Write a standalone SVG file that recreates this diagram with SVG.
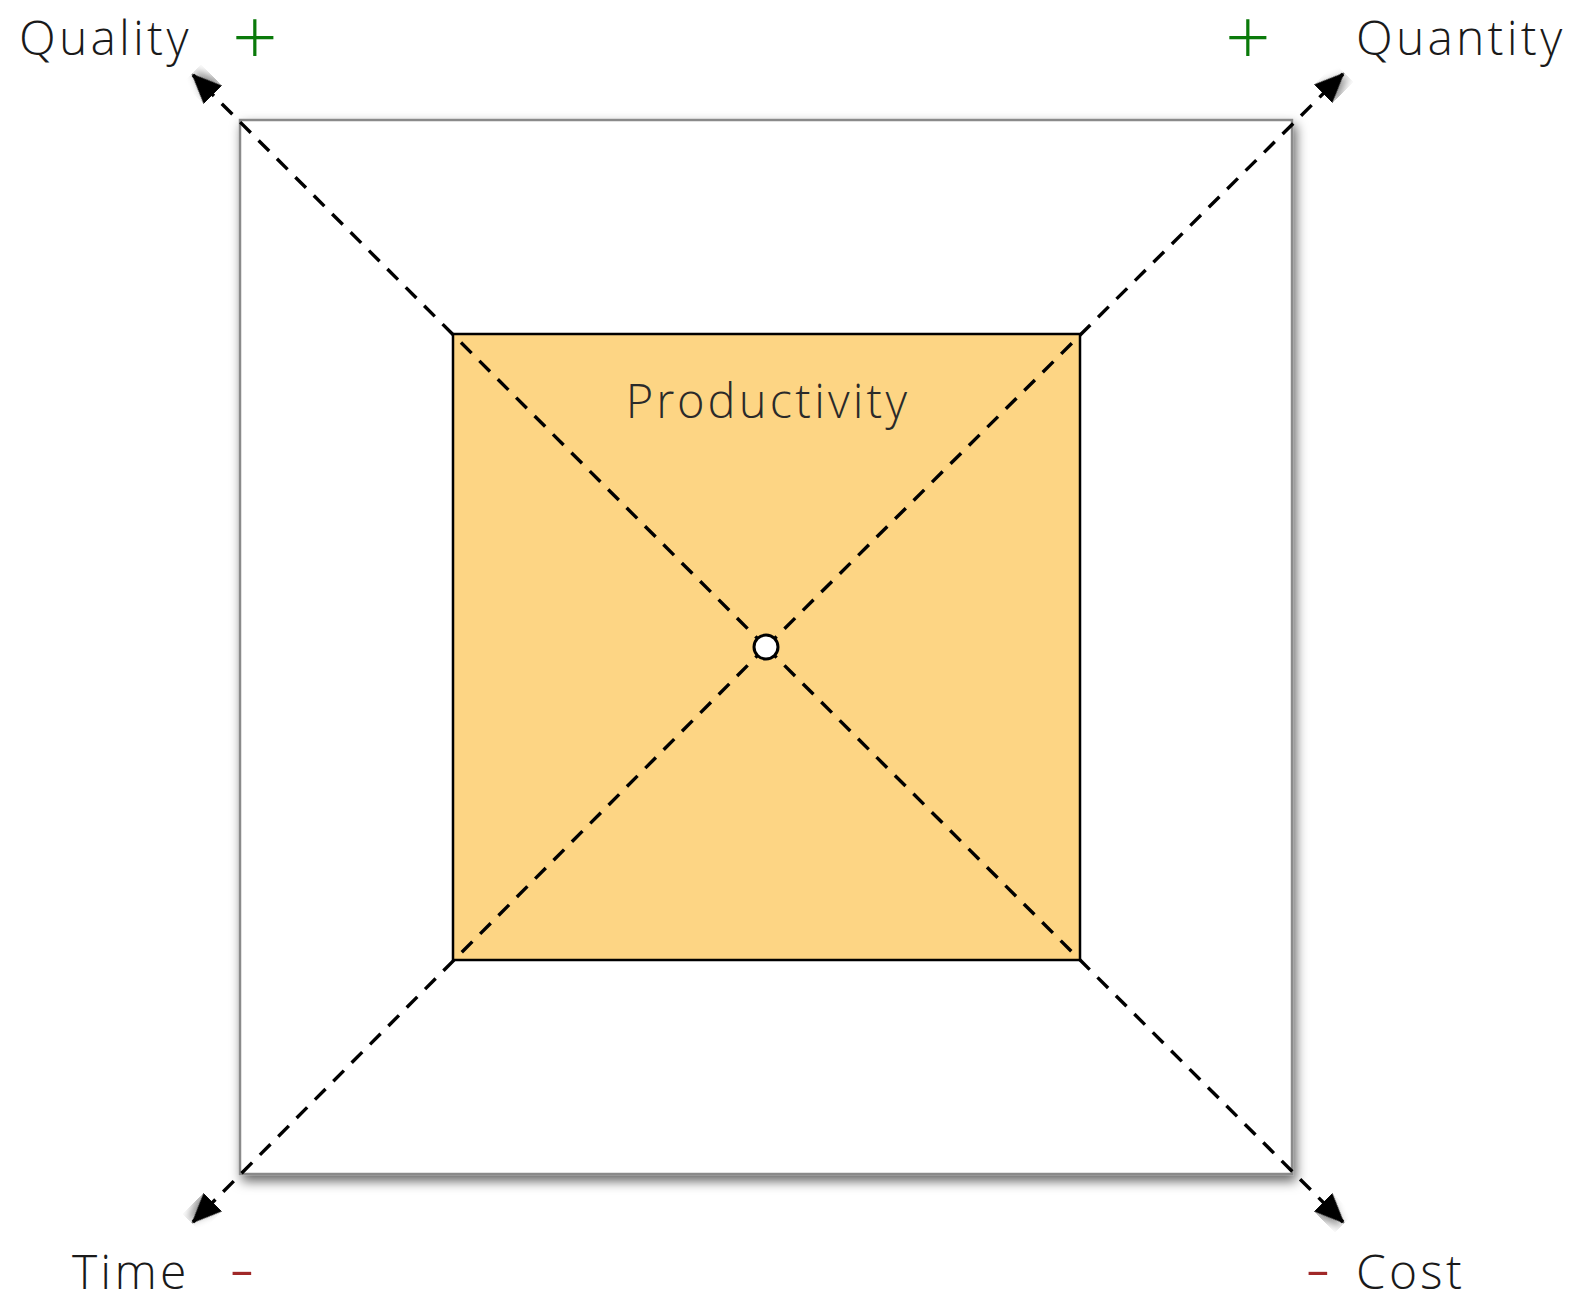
<svg xmlns="http://www.w3.org/2000/svg" width="1572" height="1295" viewBox="0 0 1572 1295">
<defs>
<filter id="sh" x="-10%" y="-10%" width="130%" height="130%">
<feDropShadow dx="3" dy="6" stdDeviation="6" flood-color="#000" flood-opacity="0.6"/>
</filter>
<filter id="ash" x="-100%" y="-100%" width="300%" height="300%">
<feDropShadow dx="2" dy="4" stdDeviation="4" flood-color="#000" flood-opacity="0.45"/>
</filter>
<marker id="arr" viewBox="0 0 30 26" refX="28" refY="13" markerWidth="30" markerHeight="26" markerUnits="userSpaceOnUse" orient="auto">
<path d="M0,0 L30,13 L0,26 Z" fill="#000" filter="url(#ash)"/>
</marker>
<style>
.lbl{font-family:"Open Sans Light","Open Sans","Noto Sans",sans-serif;font-weight:300;font-size:48px;fill:#1a1a1a;letter-spacing:3.2px;}
.sign{font-family:"Open Sans Light","Open Sans","Noto Sans",sans-serif;font-weight:300;font-size:80px;}
.conn{stroke:#000;stroke-width:3.4;stroke-dasharray:15 11;fill:none;}
</style>
</defs>
<g id="outer">
<rect x="240" y="120" width="1052" height="1054" fill="#fff" stroke="#8a8a8a" stroke-width="2.5" filter="url(#sh)"/>
</g>
<g id="productivity">
<rect x="453" y="334" width="627" height="626" fill="#fdd584" stroke="#000" stroke-width="2.5"/>
<text class="lbl" x="768" y="418" text-anchor="middle" style="font-size:47px;fill:#2a2a2a">Productivity</text>
</g>
<g id="connectors">
<line class="conn" x1="766" y1="647" x2="193" y2="75" marker-end="url(#arr)"/>
<line class="conn" x1="766" y1="647" x2="1343" y2="74" marker-end="url(#arr)"/>
<line class="conn" x1="766" y1="647" x2="193" y2="1222" marker-end="url(#arr)"/>
<line class="conn" x1="766" y1="647" x2="1343" y2="1222" marker-end="url(#arr)"/>
</g>
<g id="center">
<circle cx="766" cy="647" r="12" fill="#fff" stroke="#000" stroke-width="3"/>
</g>
<g id="quality">
<text class="lbl" x="19" y="55">Quality</text>
<text class="sign" x="232" y="66" fill="#0a7a0a">+</text>
</g>
<g id="quantity">
<text class="lbl" x="1356" y="55">Quantity</text>
<text class="sign" x="1225" y="66" fill="#0a7a0a">+</text>
</g>
<g id="time">
<text class="lbl" x="72" y="1289">Time</text>
<text class="sign" x="229" y="1295" fill="#a02828">-</text>
</g>
<g id="cost">
<text class="lbl" x="1356" y="1289">Cost</text>
<text class="sign" x="1305" y="1295" fill="#a02828">-</text>
</g>
</svg>
